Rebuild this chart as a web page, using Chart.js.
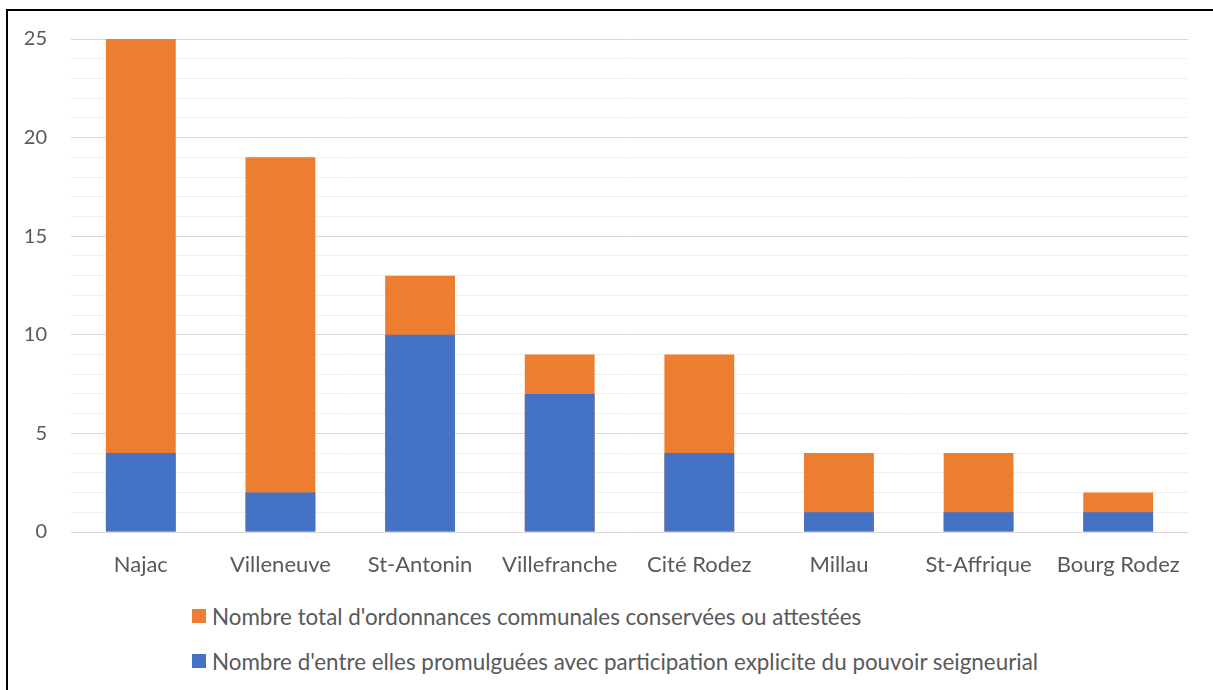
<!DOCTYPE html>
<html>
<head>
<meta charset="utf-8">
<script src="https://cdn.jsdelivr.net/npm/chart.js@4.4.1/dist/chart.umd.min.js"></script>
<style>
    body { margin: 0; background: #fff; font-family: Lato, sans-serif; }
    #frame { position: absolute; left: 6px; top: 9px; width: 1230px; height: 700px;
             border-left: 2px solid #000; border-top: 2px solid #000; }
    #chart { position: absolute; left: 0; top: 0; }
    #legend { position: absolute; left: 192px; top: 602px; color: #595959; font-size: 22.4px; }
    .item { display: flex; align-items: center; height: 28px; margin-bottom: 17px; white-space: nowrap; }
    .box { width: 14px; height: 14px; margin-right: 6px; }
</style>
</head>
<body>
<div id="frame"></div>
<canvas id="chart" width="1213" height="590"></canvas>
<div id="legend"></div>
<script>
const towns = ["Najac", "Villeneuve", "St-Antonin", "Villefranche", "Cité Rodez", "Millau", "St-Affrique", "Bourg Rodez"];
const totalOrdonnances = [25, 19, 13, 9, 9, 4, 4, 2];
const withSeigneur = [4, 2, 10, 7, 4, 1, 1, 1];
const seriesNames = [
    "Nombre total d'ordonnances communales conservées ou attestées",
    "Nombre d'entre elles promulguées avec participation explicite du pouvoir seigneurial"
];
const seriesColors = ["#ED7D31", "#4472C4"];

const textColor = "#595959";

// legend built by hand so the two entries sit one above the other
const legend = document.getElementById("legend");
seriesNames.forEach((name, i) => {
    const row = document.createElement("div");
    row.className = "item";
    row.innerHTML = `<span class="box" style="background:${seriesColors[i]}"></span><span>${name}</span>`;
    legend.appendChild(row);
});

const ctx = document.getElementById("chart").getContext("2d");
new Chart(ctx, {
    type: "bar",
    data: {
        labels: towns,
        datasets: [
            {
                label: seriesNames[0],
                data: totalOrdonnances,
                backgroundColor: seriesColors[0],
                grouped: false,
                order: 2
            },
            {
                label: seriesNames[1],
                data: withSeigneur,
                backgroundColor: seriesColors[1],
                grouped: false,
                order: 1
            }
        ]
    },
    options: {
        responsive: false,
        animation: false,
        layout: { padding: { top: 39, right: 25, left: 0, bottom: 0 } },
        categoryPercentage: 0.5,
        barPercentage: 1,
        plugins: {
            legend: { display: false },
            tooltip: { enabled: false }
        },
        scales: {
            x: {
                grid: { display: false },
                border: { display: false },
                ticks: { color: textColor, font: { family: "Lato", size: 22 }, padding: 12, maxRotation: 0 },
                afterFit: (scale) => { scale.height = 58; }
            },
            y: {
                min: 0,
                max: 25,
                border: { display: false },
                grid: {
                    drawTicks: false,
                    color: (c) => (c.tick && c.tick.value % 5 === 0) ? "#d9d9d9" : "#f0f0f0",
                    lineWidth: 1
                },
                ticks: {
                    stepSize: 1,
                    autoSkip: false,
                    padding: 24,
                    color: textColor,
                    font: { family: "Lato", size: 20 },
                    callback: (v) => v % 5 === 0 ? v : ""
                },
                afterFit: (scale) => { scale.width = 71; }
            }
        }
    }
});
</script>
</body>
</html>
